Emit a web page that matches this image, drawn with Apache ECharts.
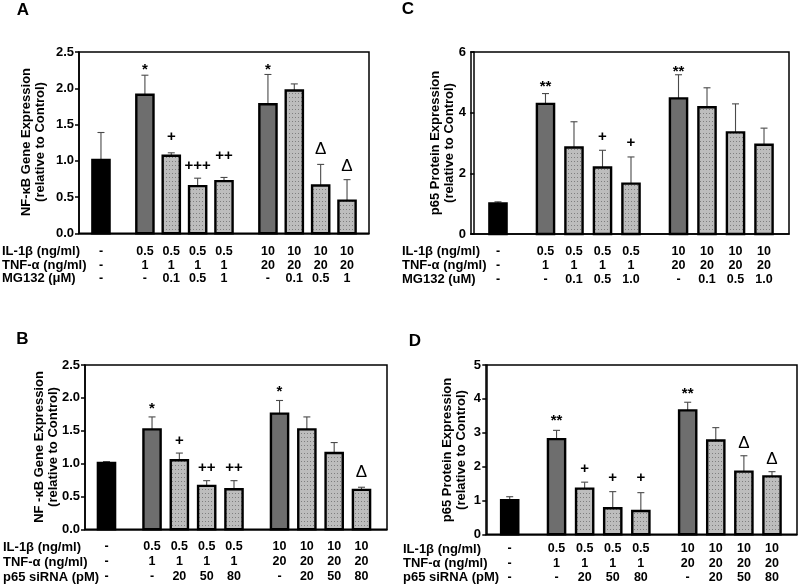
<!DOCTYPE html>
<html><head><meta charset="utf-8">
<script src="https://cdn.jsdelivr.net/npm/echarts@6.0.0/dist/echarts.min.js"></script>
<style>html,body{margin:0;padding:0;background:#fff}#c{width:800px;height:586px}</style>
</head><body><div id="c"></div>
<script>
// ---------------- data ----------------
const barKind = ['ctrl','stim','trt','trt','trt','stim','trt','trt','trt'];

const A_mean = [1.01,1.91,1.07,0.65,0.72,1.78,1.97,0.66,0.45];
const A_sem  = [0.38,0.27,0.04,0.11,0.05,0.41,0.09,0.29,0.29];
const A_sig  = ['','*','+','+++','++','*','','Δ','Δ'];
const A_sigY = [null,2.26,1.33,0.93,1.07,2.25,null,1.16,0.93];

const C_mean = [1.01,4.29,2.85,2.19,1.66,4.47,4.18,3.35,2.94];
const C_sem  = [0.05,0.34,0.85,0.57,0.88,0.78,0.64,0.94,0.55];
const C_sig  = ['','**','','+','+','**','','',''];
const C_sigY = [null,4.86,null,3.19,2.99,5.35,null,null,null];

const B_mean = [1.01,1.52,1.05,0.66,0.61,1.76,1.52,1.16,0.60];
const B_sem  = [0.02,0.19,0.11,0.08,0.13,0.20,0.19,0.16,0.04];
const B_sig  = ['','*','+','++','++','*','','','Δ'];
const B_sigY = [null,1.83,1.34,0.93,0.93,2.09,null,null,0.86];

const D_mean = [1.01,2.81,1.35,0.77,0.69,3.66,2.77,1.85,1.71];
const D_sem  = [0.10,0.26,0.19,0.49,0.54,0.24,0.38,0.47,0.14];
const D_sig  = ['','**','+','+','+','**','','Δ','Δ'];
const D_sigY = [null,3.34,1.93,1.66,1.66,4.14,null,2.70,2.22];

const IL1B    = ['-','0.5','0.5','0.5','0.5','10','10','10','10'];
const TNFA    = ['-','1','1','1','1','20','20','20','20'];
const MG132_A = ['-','-','0.1','0.5','1','-','0.1','0.5','1'];
const MG132_C = ['-','-','0.1','0.5','1.0','-','0.1','0.5','1.0'];
const SIRNA   = ['-','-','20','50','80','-','20','50','80'];

const HEAD_A = ['IL-1β (ng/ml)','TNF-α (ng/ml)','MG132 (μM)'];
const HEAD_C = ['IL-1β (ng/ml)','TNF-α (ng/ml)','MG132 (uM)'];
const HEAD_BD = ['IL-1β (ng/ml)','TNF-α (ng/ml)','p65 siRNA (pM)'];

const NAME_NFKB_A = 'NF-κB Gene Expression\n(relative to Control)';
const NAME_NFKB_B = 'NF -κB Gene Expression\n(relative to Control)';
const NAME_P65 = 'p65 Protein Expression\n(relative to Control)';

// ---------------- layout ----------------
const SLOT = [2.5,7.5,10.5,13.5,16.5,21.5,24.5,27.5,30.5];
const FONT = '"Liberation Sans", Arial, sans-serif';

const panels = [
  {letter:'A', lx:23, ly:10, grid:{left:79, top:52, width:290, height:181.3}, xMin:0, xMax:33,
   yMax:2.5, yInt:0.5, dec:1, mean:A_mean, sem:A_sem, sig:A_sig, sigY:A_sigY,
   rows:[IL1B,TNFA,MG132_A], head:HEAD_A, hx:2, rowOff:18.4, rowGap:13.6,
   name:NAME_NFKB_A, nx:33, ny:142},
  {letter:'C', lx:408, ly:9, grid:{left:471, top:52, width:318, height:182}, xMin:-0.34, xMax:33.13,
   yMax:6, yInt:2, dec:0, mean:C_mean, sem:C_sem, sig:C_sig, sigY:C_sigY,
   rows:[IL1B,TNFA,MG132_C], head:HEAD_C, hx:402, rowOff:17.7, rowGap:13.7,
   name:NAME_P65, nx:442, ny:143},
  {letter:'B', lx:22.5, ly:339, grid:{left:85, top:365, width:302, height:164.3}, xMin:0.14, xMax:33.3,
   yMax:2.5, yInt:0.5, dec:1, mean:B_mean, sem:B_sem, sig:B_sig, sigY:B_sigY,
   rows:[IL1B,TNFA,SIRNA], head:HEAD_BD, hx:3, rowOff:17.7, rowGap:15,
   name:NAME_NFKB_B, nx:46, ny:447},
  {letter:'D', lx:415, ly:341, grid:{left:486, top:365, width:311, height:169.3}, xMin:-0.03, xMax:33.17,
   yMax:5, yInt:1, dec:0, mean:D_mean, sem:D_sem, sig:D_sig, sigY:D_sigY,
   rows:[IL1B,TNFA,SIRNA], head:HEAD_BD, hx:403, rowOff:14.7, rowGap:14.2,
   name:NAME_P65, nx:454, ny:450}
];

// dotted pattern
const pc = document.createElement('canvas');
pc.width = 3; pc.height = 4;
const g = pc.getContext('2d');
g.fillStyle = '#bdbdbd'; g.fillRect(0,0,3,4);
g.fillStyle = '#7e7e7e'; g.fillRect(1,1,1,1);
const dotted = {image: pc, repeat: 'repeat'};
const fills = {ctrl:'#000000', stim:'#6e6e6e', trt: dotted};

const grids = [], xAxes = [], yAxes = [], series = [], graphics = [];
panels.forEach((p, i) => {
  grids.push(Object.assign({show:true, borderColor:'#000', borderWidth:1.5, backgroundColor:'transparent'}, p.grid));
  xAxes.push({type:'value', gridIndex:i, min:p.xMin, max:p.xMax,
    axisLine:{show:true, onZero:false, lineStyle:{color:'#000', width:1.5}},
    axisTick:{show:false}, axisLabel:{show:false}, splitLine:{show:false}});
  yAxes.push({type:'value', gridIndex:i, min:0, max:p.yMax, interval:p.yInt,
    axisLine:{show:true, lineStyle:{color:'#000', width:1.5}},
    axisTick:{show:true, length:4, lineStyle:{color:'#000', width:1.5}},
    axisLabel:{color:'#000', fontWeight:'bold', fontSize:13, fontFamily:FONT, margin:5,
      formatter: v => v.toFixed(p.dec)},
    splitLine:{show:false}});
  const data = p.mean.map((m, k) => [SLOT[k], m, p.sem[k], k]);
  series.push({type:'custom', xAxisIndex:i, yAxisIndex:i, clip:false, data:data,
    renderItem: function(params, api) {
      const k = api.value(3);
      const xv = api.value(0), mv = api.value(1), sv = api.value(2);
      const base = api.coord([xv, 0]);
      const top = api.coord([xv, mv]);
      const et = api.coord([xv, mv + sv]);
      const x = base[0], y0 = base[1], yT = top[1], yE = et[1];
      const ch = [];
      ch.push({type:'line', shape:{x1:x, y1:yT, x2:x, y2:yE}, style:{stroke:'#4a4a4a', lineWidth:1.1}});
      ch.push({type:'line', shape:{x1:x-3.5, y1:yE, x2:x+3.5, y2:yE}, style:{stroke:'#4a4a4a', lineWidth:1.1}});
      ch.push({type:'rect', shape:{x:x-8.6, y:yT, width:17.2, height:y0-yT},
        style:{fill:fills[barKind[k]], stroke:'#000', lineWidth:2.4}});
      if (p.sig[k]) {
        const ys = api.coord([xv, p.sigY[k]])[1];
        const isDelta = p.sig[k] === 'Δ';
        ch.push({type:'text', x:x, y:ys, style:{text:p.sig[k],
          font:(isDelta ? 'normal 17px ' : 'bold 15px ') + FONT, fill:'#000',
          align:'center', verticalAlign:'middle', textAlign:'center', textVerticalAlign:'middle'}});
      }
      p.rows.forEach((row, r) => {
        ch.push({type:'text', x:x, y:y0 + p.rowOff + r * p.rowGap, style:{text:row[k],
          font:'bold 12.5px ' + FONT, fill:'#000', align:'center', verticalAlign:'middle',
          textAlign:'center', textVerticalAlign:'middle'}});
      });
      return {type:'group', children:ch};
    }});
  // row headers
  const y0px = p.grid.top + p.grid.height;
  p.head.forEach((h, r) => {
    graphics.push({type:'text', x:p.hx, y:y0px + p.rowOff + r * p.rowGap,
      style:{text:h, font:'bold 13px ' + FONT, fill:'#000', align:'left', verticalAlign:'middle',
        textAlign:'left', textVerticalAlign:'middle'}});
  });
  graphics.push({type:'text', x:p.lx, y:p.ly, style:{text:p.letter, font:'bold 17px ' + FONT, fill:'#000',
    align:'center', verticalAlign:'middle', textAlign:'center', textVerticalAlign:'middle'}});
  graphics.push({type:'text', x:p.nx, y:p.ny, rotation:Math.PI/2, style:{text:p.name, font:'bold 13px ' + FONT,
    fill:'#000', align:'center', verticalAlign:'middle', textAlign:'center', textVerticalAlign:'middle', lineHeight:14}});
});

const chart = echarts.init(document.getElementById('c'), null, {renderer:'canvas'});
chart.setOption({animation:false, backgroundColor:'#fff', grid:grids, xAxis:xAxes, yAxis:yAxes,
  series:series, graphic:graphics});
</script></body></html>
